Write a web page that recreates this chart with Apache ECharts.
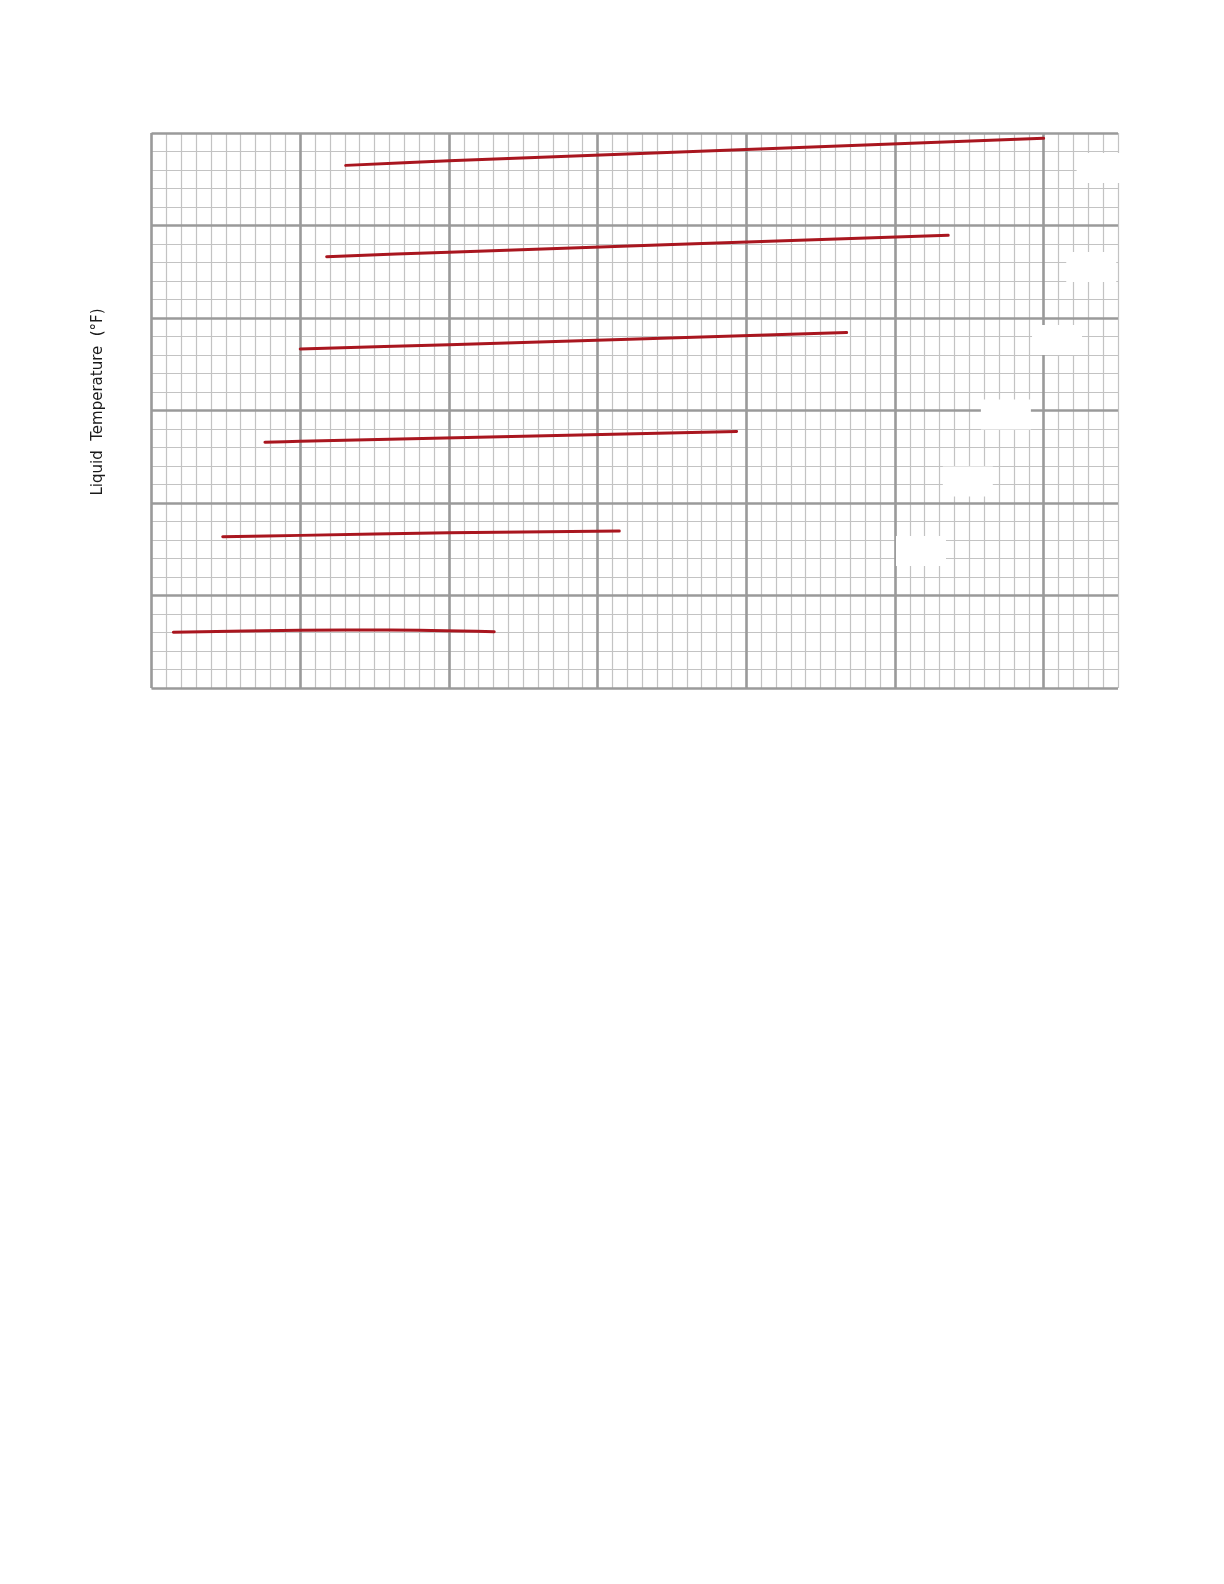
<!DOCTYPE html>
<html>
<head>
<meta charset="utf-8">
<script src="https://cdn.jsdelivr.net/npm/echarts@6/dist/echarts.min.js"></script>
<style>
html,body{margin:0;padding:0;background:#fff;}
#chart{width:1224px;height:1584px;}
</style>
</head>
<body>
<div id="chart"></div>
<script>
// Axis extents (grid units: x in minor divisions, y in minor divisions)
const xMin = 0, xMax = 65, xMinorStep = 1, xMajorStep = 10;
const yMin = 0, yMax = 30, yMinorStep = 1, yMajorStep = 5;
const yAxisTitle = 'Liquid  Temperature  (°F)';

// Curves: [x, y]
const curve1 = [[13.06, 28.25], [20, 28.50], [60, 29.71]];
const curve2 = [[11.78, 23.31], [20, 23.56], [53.58, 24.47]];
const curve3 = [[10.0, 18.32], [20, 18.56], [46.75, 19.21]];
const curve4 = [[7.63, 13.28], [10, 13.34], [39.35, 13.87]];
const curve5 = [[4.79, 8.18], [10, 8.25], [20, 8.39], [31.46, 8.49]];
const curve6 = [[1.47, 3.01], [10, 3.12], [16, 3.13], [23.05, 3.04]];

// White label boxes (blank labels) centres
const labelBoxX = [63.9, 63.2, 60.9, 57.46, 54.9, 51.75];
const labelBoxY = [28.11, 22.76, 18.81, 14.78, 11.16, 7.41];

const curves = [curve1, curve2, curve3, curve4, curve5, curve6];

const minorLine = {color: '#c3c3c3', width: 1.2};
const majorLine = {color: '#9a9a9a', width: 2.6};

function hiddenAxis(extra) {
  return Object.assign({
    type: 'value',
    axisLine: {show: false},
    axisTick: {show: false},
    axisLabel: {show: false},
    minorTick: {show: false}
  }, extra);
}

const chart = echarts.init(document.getElementById('chart'), null, {renderer: 'canvas'});

const series = curves.map((c, i) => ({
  type: 'line',
  name: 'curve' + (i + 1),
  data: c,
  xAxisIndex: 0,
  yAxisIndex: 0,
  showSymbol: false,
  symbol: 'none',
  smooth: 0.3,
  lineStyle: {color: '#a9161f', width: 3, cap: 'round'},
  z: 5
}));

series.push({
  type: 'scatter',
  name: 'labels',
  xAxisIndex: 0,
  yAxisIndex: 0,
  data: labelBoxX.map((x, i) => [x, labelBoxY[i]]),
  symbol: 'rect',
  symbolSize: [50, 30],
  itemStyle: {color: '#ffffff', opacity: 1},
  clip: false,
  silent: true,
  z: 4
});

chart.setOption({
  animation: false,
  backgroundColor: '#ffffff',
  grid: {left: 151.5, right: 106, top: 133, bottom: 896, containLabel: false},
  xAxis: [
    hiddenAxis({min: xMin, max: xMax, interval: xMinorStep, position: 'bottom',
      splitLine: {show: true, lineStyle: minorLine}, z: 0}),
    hiddenAxis({min: xMin, max: xMax, interval: xMajorStep, position: 'top',
      splitLine: {show: true, showMaxLine: false, lineStyle: majorLine}, z: 1})
  ],
  yAxis: [
    hiddenAxis({min: yMin, max: yMax, interval: yMinorStep, position: 'left',
      splitLine: {show: true, lineStyle: minorLine}, z: 0}),
    hiddenAxis({min: yMin, max: yMax, interval: yMajorStep, position: 'right',
      splitLine: {show: true, lineStyle: majorLine}, z: 1})
  ],
  graphic: [{
    type: 'text',
    x: 98,
    y: 402,
    rotation: Math.PI / 2,
    style: {
      text: yAxisTitle,
      align: 'center',
      verticalAlign: 'middle',
      font: '15px "DejaVu Sans"',
      fill: '#1a1a1a'
    },
    z: 10
  }],
  series: series
});
</script>
</body>
</html>
